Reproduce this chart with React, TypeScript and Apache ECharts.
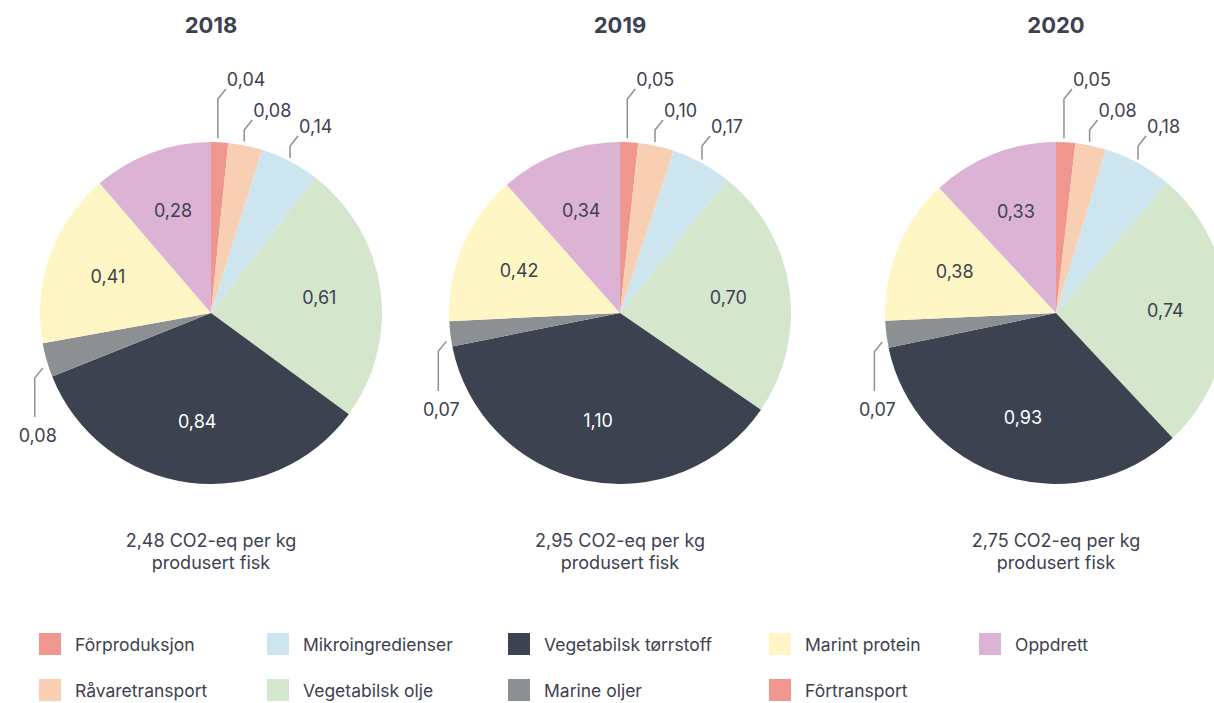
import React, { useEffect, useRef } from 'react';
import * as echarts from 'echarts';

// ---- data ----
const categories = [
  'Fôrproduksjon',
  'Råvaretransport',
  'Mikroingredienser',
  'Vegetabilsk olje',
  'Vegetabilsk tørrstoff',
  'Marine oljer',
  'Marint protein',
  'Oppdrett',
  'Fôrtransport',
];
const years = ['2018', '2019', '2020'];
const values2018 = [0.04, 0.08, 0.14, 0.61, 0.84, 0.08, 0.41, 0.28, 0];
const values2019 = [0.05, 0.1, 0.17, 0.7, 1.1, 0.07, 0.42, 0.34, 0];
const values2020 = [0.05, 0.08, 0.18, 0.74, 0.93, 0.07, 0.38, 0.33, 0];
const totalLabels = ['2,48', '2,95', '2,75'];
const seriesValues = [values2018, values2019, values2020];

// ---- styles / layout ----
const colors = ['#ef968f', '#f8cfb2', '#cde5ef', '#d4e6cb', '#3c4250', '#8d9093', '#fef7c5', '#dcb3d5', '#ef968f'];
const TEXT = '#3d4150';
const LINE = '#8d9093';
const FONT = 'Inter, "Noto Sans", sans-serif';
const CENTERS = [[211, 313], [620, 313], [1056, 313]];
const R = 171;
const TOP_OUT = [0, 1, 2];
const TOP_END_Y = [89, 120, 136];
const LEFT_OUT = 5;
const LEFT_END_Y = [417, 391, 391];
const INSIDE_R = 0.64;
const legendColumns = [[0, 1], [2, 3], [4, 5], [6, 8], [7]];
const legendLeft = [39, 267, 508, 769, 979];

function fmt(v: number) {
  return v.toFixed(2).replace('.', ',');
}

function midAngle(vals: number[], i: number) {
  const total = vals.reduce((a, b) => a + b, 0);
  let cum = 0;
  for (let k = 0; k < i; k++) cum += vals[k];
  return ((cum + vals[i] / 2) / total) * Math.PI * 2;
}

export default function App() {
  const ref = useRef<HTMLDivElement>(null);
  useEffect(() => {
    if (!ref.current) return;
    const chart = echarts.init(ref.current, undefined, { renderer: 'svg' });

    const series = seriesValues.map((vals, s) => {
      const [cx, cy] = CENTERS[s];
      return {
        type: 'pie',
        center: [cx, cy],
        radius: R,
        startAngle: 90,
        clockwise: true,
        avoidLabelOverlap: false,
        silent: true,
        emphasis: { disabled: true },
        itemStyle: { borderWidth: 0 },
        label: {
          show: true,
          position: 'outside',
          formatter: (p: any) => fmt(p.value),
          color: TEXT,
          fontSize: 18,
          fontFamily: FONT,
        },
        labelLine: { show: true, lineStyle: { color: LINE, width: 1.5 } },
        data: categories.map((name, i) => {
          const hidden = vals[i] === 0;
          const outside = TOP_OUT.includes(i) || i === LEFT_OUT;
          return {
            name,
            value: vals[i],
            itemStyle: { color: colors[i] },
            label: hidden
              ? { show: false }
              : outside
              ? { position: 'outside' }
              : { position: 'inside', color: i === 4 ? '#ffffff' : TEXT },
            labelLine: { show: outside && !hidden },
          };
        }),
        labelLayout: (p: any) => {
          const i = p.dataIndex;
          const a = midAngle(vals, i);
          const sin = Math.sin(a);
          const cos = Math.cos(a);
          if (TOP_OUT.includes(i)) {
            const sx = cx + (R + 4) * sin - 2;
            const sy = cy - (R + 4) * cos;
            const ey = TOP_END_Y[TOP_OUT.indexOf(i)];
            const ex = sx + 8;
            return {
              x: ex + 1,
              y: ey - 1,
              align: 'left',
              verticalAlign: 'bottom',
              labelLinePoints: [[sx, sy], [sx, ey + 10], [ex, ey]],
            };
          }
          if (i === LEFT_OUT) {
            const sx = cx + (R + 4) * sin;
            const sy = cy - (R + 4) * cos + 7;
            const ex = sx - 8;
            const by = LEFT_END_Y[s];
            return {
              x: ex + 3,
              y: by + 9,
              align: 'center',
              verticalAlign: 'top',
              labelLinePoints: [[sx, sy], [ex, sy + 10], [ex, by]],
            };
          }
          const ri = R * INSIDE_R;
          return {
            x: cx + ri * sin,
            y: cy - ri * cos,
            align: 'center',
            verticalAlign: 'middle',
          };
        },
      };
    });

    const legends = legendColumns.map((col, c) => ({
      orient: 'vertical',
      left: legendLeft[c],
      top: 633,
      padding: 0,
      itemGap: 24,
      itemWidth: 22,
      itemHeight: 22,
      icon: 'rect',
      selectedMode: false,
      data: col.map((i) => categories[i]),
      formatter: (name: string) => `{t|${name}}`,
      textStyle: {
        color: TEXT,
        fontSize: 17.5,
        fontFamily: FONT,
        rich: { t: { color: TEXT, fontSize: 17.5, fontFamily: FONT, padding: [0, 0, 0, 9] } },
      },
    }));

    const graphic: any[] = [];
    years.forEach((y, s) => {
      const cx = CENTERS[s][0];
      graphic.push({
        type: 'text',
        x: cx,
        y: 25,
        style: {
          text: y,
          fill: TEXT,
          fontSize: 22,
          fontWeight: 'bold',
          fontFamily: FONT,
          align: 'center',
          verticalAlign: 'middle',
          textAlign: 'center',
          textVerticalAlign: 'middle',
        },
      });
      graphic.push({
        type: 'text',
        x: cx,
        y: 551,
        style: {
          text: `${totalLabels[s]} CO2-eq per kg\nprodusert fisk`,
          fill: TEXT,
          fontSize: 18,
          fontFamily: FONT,
          lineHeight: 22,
          align: 'center',
          verticalAlign: 'middle',
          textAlign: 'center',
          textVerticalAlign: 'middle',
        },
      });
    });

    chart.setOption({
      animation: false,
      backgroundColor: '#ffffff',
      legend: legends,
      series,
      graphic,
    } as any);

    return () => chart.dispose();
  }, []);

  return (
    <div
      ref={ref}
      style={{ position: 'absolute', left: 0, top: 0, width: 1214, height: 703, overflow: 'hidden' }}
    />
  );
}
